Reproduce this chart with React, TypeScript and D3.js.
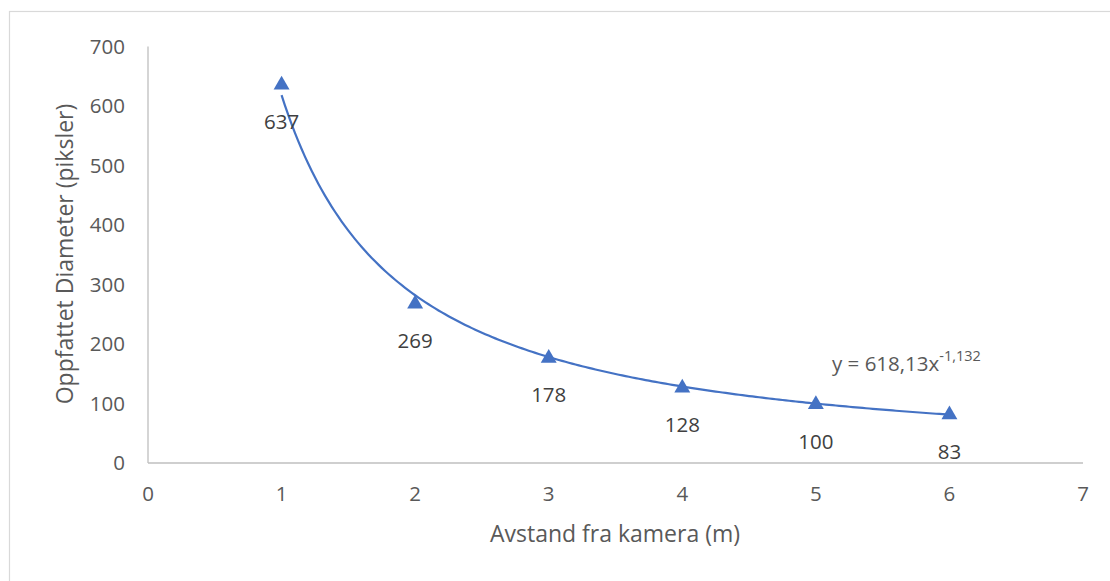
import React from "react";
import * as d3 from "d3";

const xValues = [1, 2, 3, 4, 5, 6];
const yValues = [637, 269, 178, 128, 100, 83];
const xTicks = [0, 1, 2, 3, 4, 5, 6, 7];
const yTicks = [0, 100, 200, 300, 400, 500, 600, 700];
const xTitle = "Avstand fra kamera (m)";
const yTitle = "Oppfattet Diameter (piksler)";

const W = 1110;
const H = 581;
const FONT = "'Open Sans', 'Noto Sans', sans-serif";
const TEXT = "#595959";
const BLUE = "#4472c4";

// power regression in log space (Excel-style trendline)
function powerFit(xs: number[], ys: number[]) {
  const lx = xs.map(Math.log);
  const ly = ys.map(Math.log);
  const n = xs.length;
  const mx = d3.mean(lx)!;
  const my = d3.mean(ly)!;
  let sxy = 0, sxx = 0;
  for (let i = 0; i < n; i++) {
    sxy += (lx[i] - mx) * (ly[i] - my);
    sxx += (lx[i] - mx) ** 2;
  }
  const b = sxy / sxx;
  const a = Math.exp(my - b * mx);
  return { a, b };
}

export default function App() {
  const x = d3.scaleLinear().domain([0, 7]).range([148, 1083]);
  const y = d3.scaleLinear().domain([0, 700]).range([463, 46.5]);
  const { a, b } = powerFit(xValues, yValues);
  const trendPts = d3.range(0, 201).map((i) => {
    const xv = 1 + (5 * i) / 200;
    return [xv, a * Math.pow(xv, b)] as [number, number];
  });
  const line = d3
    .line<[number, number]>()
    .x((d) => x(d[0]))
    .y((d) => y(d[1]))
    .curve(d3.curveLinear);
  const tri = d3.symbol().type(d3.symbolTriangle).size(110)();
  const fmt = (v: number, d: number) => v.toFixed(d).replace(".", ",");

  return (
    <svg
      width={W}
      height={H}
      style={{ position: "absolute", left: 0, top: 0, background: "#fff" }}
      fontFamily={FONT}
    >
      <rect x={9.5} y={11.5} width={W + 20} height={H + 20} fill="#fff" stroke="#d9d9d9" strokeWidth={1.2} />
      {/* axes */}
      <line x1={x(0)} x2={x(0)} y1={y(700)} y2={y(0)} stroke="#bfbfbf" strokeWidth={1.3} />
      <line x1={x(0)} x2={x(7)} y1={y(0)} y2={y(0)} stroke="#bfbfbf" strokeWidth={1.3} />
      {yTicks.map((t) => (
        <text key={"y" + t} x={125} y={y(t)} dy="0.36em" textAnchor="end" fontSize={20.5} fill={TEXT}>
          {t}
        </text>
      ))}
      {xTicks.map((t) => (
        <text key={"x" + t} x={x(t)} y={494} dy="0.36em" textAnchor="middle" fontSize={20.5} fill={TEXT}>
          {t}
        </text>
      ))}
      <text x={615} y={534} dy="0.36em" textAnchor="middle" fontSize={23} fill={TEXT}>
        {xTitle}
      </text>
      <text
        transform={`translate(65,254) rotate(-90)`}
        dy="0.36em"
        textAnchor="middle"
        fontSize={23}
        fill={TEXT}
      >
        {yTitle}
      </text>
      {/* trendline */}
      <path d={line(trendPts) || ""} fill="none" stroke={BLUE} strokeWidth={2.2} />
      {/* markers */}
      {xValues.map((xv, i) => (
        <path key={"m" + i} d={tri || ""} transform={`translate(${x(xv)},${y(yValues[i]) + 1})`} fill={BLUE} />
      ))}
      {/* data labels */}
      {xValues.map((xv, i) => (
        <text
          key={"l" + i}
          x={x(xv)}
          y={y(yValues[i]) + 38}
          dy="0.36em"
          textAnchor="middle"
          fontSize={20.5}
          fill="#404040"
        >
          {yValues[i]}
        </text>
      ))}
      {/* equation */}
      <text x={832} y={371} fontSize={20.5} fill={TEXT}>
        {`y = ${fmt(a, 2)}x`}
        <tspan dy={-10} fontSize={14.5}>{fmt(b, 3)}</tspan>
      </text>
    </svg>
  );
}
